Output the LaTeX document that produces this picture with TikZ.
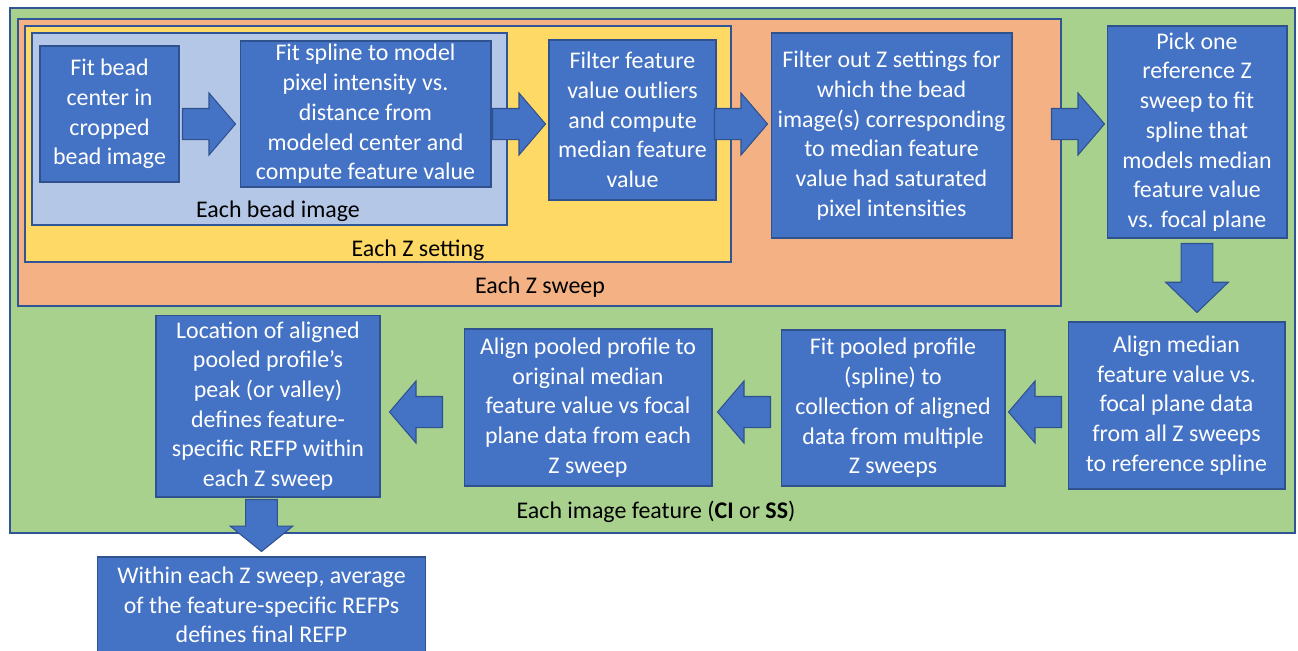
\documentclass[tikz,border=0pt]{standalone}
\usepackage{fontspec}
\setmainfont{Carlito}
\usetikzlibrary{shapes.arrows}
\definecolor{RBlue}{HTML}{4472C4}
\definecolor{RBlueLine}{HTML}{2F528F}
\definecolor{RGreen}{HTML}{A9D18E}
\definecolor{ROrange}{HTML}{F4B183}
\definecolor{RYellow}{HTML}{FFD966}
\definecolor{RLight}{HTML}{B4C7E7}
\definecolor{RZone}{HTML}{2F5597}
\tikzset{
  stepbox/.style={draw=RBlueLine,fill=RBlue,text=white,align=center,inner sep=1pt,line width=0.6pt},
  zone/.style={draw=RZone,line width=0.7pt},
  zonelabel/.style={inner sep=0pt},
  blockarrow/.style={single arrow,draw=RBlueLine,fill=RBlue,line width=0.6pt,inner xsep=0pt,inner ysep=0.3cm,outer sep=0pt,
    anchor=tip,single arrow head extend=0.31cm,minimum height=1.06cm,single arrow tip angle=99},
  downarrow/.style={blockarrow,shape border rotate=270,inner xsep=0.306cm,inner ysep=0pt},
}
\begin{document}
\begin{tikzpicture}[x=0.02cm,y=-0.02cm,font=\fontsize{13.6pt}{16.9pt}\selectfont]
\path[use as bounding box] (0,0) rectangle (1298,650);
\draw[zone,fill=RGreen] (10,8) rectangle (1295,533);
\draw[zone,fill=ROrange] (18,19) rectangle (1061,306);
\draw[zone,fill=RYellow] (25,26) rectangle (731,262);
\draw[zone,fill=RLight] (32,33) rectangle (507,225);
\node[zonelabel] (lbead) at (278,211) {Each bead image};
\node[zonelabel] (lsetting) at (418,250) {Each Z setting};
\node[zonelabel] (lsweep) at (540,287) {Each Z sweep};
\node[zonelabel] (lfeature) at (656,512) {Each image feature (\textbf{CI} or \textbf{SS})};
\coordinate (row1) at (0,124);
\coordinate (row2) at (0,412);
\node[stepbox,minimum width=2.78cm,minimum height=2.72cm] (beadfit) at (109.5,114) {Fit bead\\center in\\cropped\\bead image};
\node[stepbox,minimum width=5.02cm,minimum height=2.92cm] (splinefit) at (365.5,114) {Fit spline to model\\pixel intensity vs.\\distance from\\modeled center and\\compute feature value};
\node[stepbox,minimum width=3.34cm,minimum height=3.2cm] (outlier) at (632.5,120) {Filter feature\\value outliers\\and compute\\median feature\\value};
\node[stepbox,minimum width=4.82cm,minimum height=4.1cm] (saturation) at (891.5,135.5) {Filter out Z settings for\\which the bead\\image(s) corresponding\\to median feature\\value had saturated\\pixel intensities};
\node[stepbox,minimum width=3.6cm,minimum height=4.24cm] (refpick) at (1197,132) {Pick one\\reference Z\\sweep to fit\\spline that\\models median\\feature value\\vs. focal plane};
\node[stepbox,minimum width=4.34cm,minimum height=3.34cm] (alignref) at (1176.5,405.5) {Align median\\feature value vs.\\focal plane data\\from all Z sweeps\\to reference spline};
\node[stepbox,minimum width=4.48cm,minimum height=3.12cm] (poolfit) at (893,408) {Fit pooled profile\\(spline) to\\collection of aligned\\data from multiple\\Z sweeps};
\node[stepbox,minimum width=4.96cm,minimum height=3.14cm] (poolalign) at (588,407.5) {Align pooled profile to\\original median\\feature value vs focal\\plane data from each\\Z sweep};
\node[stepbox,minimum width=4.48cm,minimum height=3.64cm] (peakloc) at (268,406) {Location of aligned\\pooled profile’s\\peak (or valley)\\defines feature-\\specific REFP within\\each Z sweep};
\node[stepbox,minimum width=6.58cm,minimum height=1.92cm] (finalrefp) at (261.5,605) {Within each Z sweep, average\\of the feature-specific REFPs\\defines final REFP};
\node[blockarrow,xshift=-0.08cm] (a1) at (splinefit.west |- row1) {};
\node[blockarrow,xshift=-0.06cm] (a2) at (outlier.west |- row1) {};
\node[blockarrow,xshift=-0.06cm] (a3) at (saturation.west |- row1) {};
\node[blockarrow,xshift=-0.04cm] (a4) at (refpick.west |- row1) {};
\node[downarrow,minimum height=1.38cm,single arrow tip angle=92,yshift=0.18cm] (a5) at (refpick.south |- alignref.north) {};
\node[blockarrow,shape border rotate=180,xshift=0.06cm] (a6) at (poolfit.east |- row2) {};
\node[blockarrow,shape border rotate=180,xshift=0.1cm] (a7) at (poolalign.east |- row2) {};
\node[blockarrow,shape border rotate=180,xshift=0.18cm] (a8) at (peakloc.east |- row2) {};
\node[downarrow,minimum height=1.04cm,single arrow tip angle=102,yshift=0.1cm] (a9) at (finalrefp.north) {};
\end{tikzpicture}
\end{document}
